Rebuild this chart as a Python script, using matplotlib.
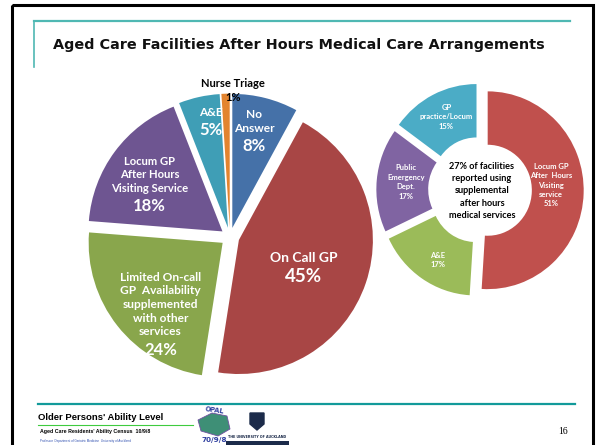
import numpy as np
import matplotlib
matplotlib.use("Agg")
from matplotlib import pyplot as plt
from matplotlib.patches import Rectangle, Polygon

# main pie data
main_names = ["No\nAnswer", "On Call GP",
              "Limited On-call\nGP  Availability\nsupplemented\nwith other\nservices",
              "Locum GP\nAfter Hours\nVisiting Service", "A&E", "Nurse Triage"]
main_pct = [8, 45, 24, 18, 5, 1]

# donut data (supplemental services)
donut_names = ["Locum GP\nAfter  Hours\nVisiting\nservice", "A&E",
               "Public\nEmergency\nDept.", "GP\npractice/Locum"]
donut_pct = [51, 17, 17, 15]

title = "Aged Care Facilities After Hours Medical Care Arrangements"
centre_text = "27% of facilities\nreported using\nsupplemental\nafter hours\nmedical services"

# styling
main_colors = ["#4571A8", "#A84645", "#89A64C", "#6E5591", "#3F9EB6", "#E3842F"]
main_explode = [0.07, 0.07, 0.07, 0.07, 0.07, 0.07]
main_label_xy = [(0.18, 0.75), (0.55, -0.22), (-0.52, -0.77), (-0.60, 0.30),
                 (-0.14, 0.87), (0.02, 1.04)]
main_name_size = [8.6, 10, 8.6, 8.1, 8.6, 8]
main_pct_size = [12, 13.5, 12, 12, 12, 8]
donut_colors = ["#C0504D", "#9BBB59", "#8064A2", "#4BACC6"]
donut_label_xy = [(0.74, 0.05), (-0.44, -0.71), (-0.77, 0.08), (-0.35, 0.74)]

W, H = 602, 445
fig = plt.figure(figsize=(W / 100, H / 100), dpi=100)
bg = fig.add_axes([0, 0, 1, 1])
bg.set_xlim(0, W)
bg.set_ylim(H, 0)
bg.axis("off")

# slide frame and decorations
bg.add_patch(Rectangle((12, 5), 581, 460, fill=False, ec="black", lw=2.2))
bg.plot([34, 570], [21, 21], color="#4FB8B3", lw=1.6)
bg.plot([34, 34], [21, 67], color="#4FB8B3", lw=1.2)
bg.text(53, 45, title, fontsize=10.4, fontweight="bold", family="DejaVu Sans",
        va="center", ha="left", color="#111111")
bg.plot([38, 575], [404, 404], color="#129A9A", lw=1.6)
bg.text(38, 418, "Older Persons' Ability Level", fontsize=6.8, fontweight="bold",
        family="Liberation Sans", va="center")
bg.plot([38, 193], [425, 425], color="#3FCB3F", lw=0.8)
bg.text(40, 432, "Aged Care Residents' Ability Census  10/9/8", fontsize=3.8,
        fontweight="bold", family="Liberation Sans", va="center")
bg.text(40, 441, "Professor  Department of Geriatric Medicine  University of Auckland",
        fontsize=2.2, color="#3050B0", family="Liberation Sans", va="center")
# OPAL logo
bg.add_patch(Polygon([(198, 420), (212, 413), (227, 416), (230, 429), (218, 436),
                      (201, 431)], closed=True, fc="#3E8F76", ec="#7050A0", lw=0.6))
bg.text(214, 410, "OPAL", fontsize=4.8, color="#3040A0", ha="center", va="center",
        fontweight="bold", rotation=-8)
bg.text(214, 440, "70/9/8", fontsize=5.2, color="#3040A0", ha="center", va="center",
        fontweight="bold")
# university crest
bg.add_patch(Polygon([(250, 413), (264, 413), (264, 424), (257, 430), (250, 424)],
                     closed=True, fc="#1C2B4A", ec="#1C2B4A"))
bg.text(257, 437, "THE UNIVERSITY OF AUCKLAND", fontsize=2.4, ha="center",
        va="center", color="#1C2B4A", fontweight="bold")
bg.add_patch(Rectangle((226, 441), 63, 4, fc="#1C2B4A"))
bg.text(563, 431, "16", fontsize=7, family="Liberation Serif", ha="center",
        va="center")


def pie_axes(cx, cy, r, half=1.35, sy=1.0):
    s = half * r
    ax = fig.add_axes([(cx - s) / W, 1 - (cy + s * sy) / H, 2 * s / W,
                       2 * s * sy / H])
    return ax, half


lato = ["Lato", "DejaVu Sans"]

# main exploded pie
ax1, h1 = pie_axes(230, 237, 134)
wedges1, _ = ax1.pie(main_pct, colors=main_colors, explode=main_explode,
                     startangle=90, counterclock=False,
                     wedgeprops=dict(lw=0))
ax1.set_aspect("auto")
ax1.set_xlim(-h1, h1)
ax1.set_ylim(-h1, h1)
for i, (name, pct) in enumerate(zip(main_names, main_pct)):
    x, y = main_label_xy[i]
    if name == "Nurse Triage":
        ax1.annotate(name, (x, y), xytext=(0, 6), textcoords="offset points",
                     ha="center", va="bottom", fontsize=main_name_size[i],
                     fontweight="bold", family=lato, color="black")
        ax1.text(x, y, f"{pct}%", ha="center", va="center",
                 fontsize=main_pct_size[i], fontweight="bold", family=lato,
                 color="black")
        continue
    ax1.annotate(name, (x, y), xytext=(0, 2), textcoords="offset points",
                 ha="center", va="bottom", fontsize=main_name_size[i],
                 fontweight="bold", family=lato, color="white", linespacing=1.3)
    ax1.annotate(f"{pct}%", (x, y), xytext=(0, -1), textcoords="offset points",
                 ha="center", va="top", fontsize=main_pct_size[i],
                 fontweight="bold", family=lato, color="white")

# donut of supplemental services
ax2, h2 = pie_axes(480, 190, 96, sy=1.03)
wedges2, _ = ax2.pie(donut_pct, colors=donut_colors, explode=[0.08] * 4,
                     startangle=90, counterclock=False,
                     wedgeprops=dict(width=0.54, lw=0))
ax2.set_aspect("auto")
ax2.set_xlim(-h2, h2)
ax2.set_ylim(-h2, h2)
for i, (name, pct) in enumerate(zip(donut_names, donut_pct)):
    x, y = donut_label_xy[i]
    ax2.text(x, y, f"{name}\n{pct}%", ha="center", va="center", fontsize=5.5,
             fontweight="bold", family=lato, color="white", linespacing=1.4)
ax2.text(0.02, -0.01, centre_text, ha="center", va="center", fontsize=6.6,
         fontweight="bold", family=lato, color="black", linespacing=1.45)

fig.savefig("out.png", dpi=100)
